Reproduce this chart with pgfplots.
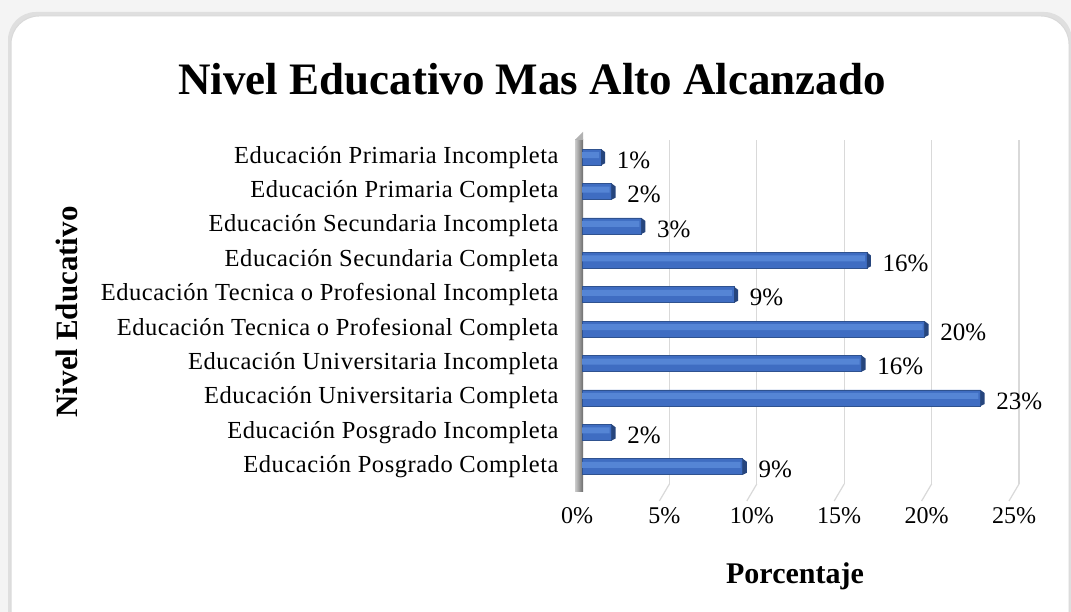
\documentclass[border=0pt]{standalone}
\usepackage{pgfplots}
\usepackage{pgfplotstable}
\pgfplotsset{compat=1.18}
\usepackage{fontspec}
\setmainfont{Liberation Serif}
\newfontfamily\labfont[LetterSpace=2.2]{Liberation Serif}
\definecolor{barblue}{HTML}{3F6DC2}
\definecolor{barlight}{HTML}{5585D5}
\definecolor{bardark}{HTML}{2F528F}
\definecolor{endface}{HTML}{26457D}
\definecolor{gridc}{HTML}{D9D9D9}
\pgfdeclareplotmark{endface}{\pgfpathmoveto{\pgfpoint{0pt}{-8pt}}\pgfpathlineto{\pgfpoint{4pt}{-6pt}}\pgfpathlineto{\pgfpoint{4pt}{5pt}}\pgfpathlineto{\pgfpoint{0pt}{8pt}}\pgfpathclose\pgfusepath{fill}}
\pgfplotstableread{
idx val
0 9.2
1 1.7
2 22.8
3 16.0
4 19.6
5 8.7
6 16.3
7 3.4
8 1.7
9 1.1
}\datatable
\begin{document}
\begin{tikzpicture}
\useasboundingbox (0,0) rectangle (1071pt,612pt);
\clip (0,0) rectangle (1071pt,612pt);
\fill[gray!9] (0,0) rectangle (1071pt,612pt);
\fill[gray!25, rounded corners=28pt] (8pt,-30pt) rectangle (1072pt,600pt);
\filldraw[white, draw=gray!30, line width=1pt, rounded corners=28pt] (11pt,-30pt) rectangle (1069pt,596pt);
\node[font=\fontsize{45}{50}\selectfont\bfseries] at (532pt,533pt) {Nivel Educativo Mas Alto Alcanzado};
\node[font=\fontsize{31}{34}\selectfont\bfseries, rotate=90] at (67pt,300pt) {Nivel Educativo};
\node[font=\fontsize{30}{34}\selectfont\bfseries] at (795pt,36pt) {Porcentaje};
\begin{axis}[
  at={(582pt,128pt)}, anchor=south west,
  scale only axis, width=437pt, height=344pt,
  xmin=0, xmax=25, ymin=-0.5, ymax=9.5,
  xbar, bar width=16pt,
  xtick={0,5,10,15,20,25},
  xticklabel={\pgfmathprintnumber{\tick}\%},
  xticklabel style={font=\fontsize{24}{26}\selectfont, yshift=-20pt, xshift=-5pt},
  /pgf/number format/assume math mode=true,
  ytick={0,...,9},
  yticklabels={Educación Posgrado Completa, Educación Posgrado Incompleta, Educación Universitaria Completa, Educación Universitaria Incompleta, Educación Tecnica o Profesional Completa, Educación Tecnica o Profesional Incompleta, Educación Secundaria Completa, Educación Secundaria Incompleta, Educación Primaria Completa, Educación Primaria Incompleta},
  yticklabel style={font=\labfont\fontsize{24.5}{26}\selectfont, xshift=-20pt},
  major tick length=0pt,
  axis line style={draw=none},
  xmajorgrids, grid style={gridc, line width=1.2pt},
  clip=false,
]
\fill[left color=gray!40, right color=gray!85!black] (axis cs:0,-0.5) ++(-7pt,-8pt) rectangle ([xshift=1pt]axis cs:0,9.5);
\fill[gray!60] ([xshift=-7pt]axis cs:0,9.5) -- ([xshift=1pt]axis cs:0,9.5) -- ([xshift=1pt,yshift=8pt]axis cs:0,9.5) -- cycle;
\foreach \g in {5,10,15,20,25}{
  \edef\tmp{\noexpand\draw[gridc, line width=1.2pt] (axis cs:\g,-0.5) -- ++(-10pt,-17pt);}\tmp
}
\addplot[draw=bardark, line width=0.8pt, fill=barblue, bar shift=0pt,
  nodes near coords={\pgfmathprintnumber[fixed, precision=0]{\pgfplotspointmeta}\%},
  nodes near coords style={font=\fontsize{25}{27}\selectfont, anchor=west, xshift=12pt, yshift=-3pt, text=black, /pgf/number format/assume math mode=true},
  point meta=x] table[x=val, y=idx] {\datatable};
\addplot[draw=none, fill=barlight, bar width=6pt, bar shift=2pt, xbar] table[x expr=\thisrow{val}-0.12, y=idx] {\datatable};
\addplot[only marks, mark=endface, mark options={fill=endface, draw=none}, forget plot, xbar=0pt, draw=none] table[x=val, y=idx] {\datatable};
\end{axis}
\end{tikzpicture}
\end{document}
